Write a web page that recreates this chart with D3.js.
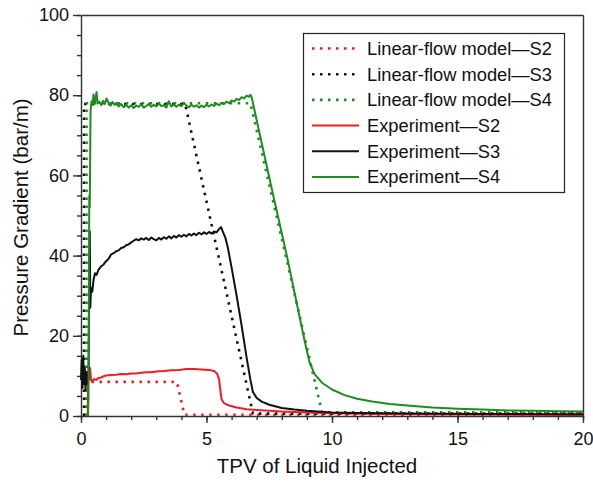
<!DOCTYPE html>
<html>
<head>
<meta charset="utf-8">
<script src="https://cdn.jsdelivr.net/npm/d3@7"></script>
<style>
	body { margin: 0; background: #fff; }
	svg text { font-family: "Liberation Sans", Arial, sans-serif; fill: #111; }
</style>
</head>
<body>
<div id="chart"></div>
<script>
// Tick values
var xTicks = [0, 5, 10, 15, 20];
var xMinor = d3.range(0, 21, 1);
var yTicks = [0, 20, 40, 60, 80, 100];
var yMinor = d3.range(0, 101, 5);

// Linear-flow model curves [TPV, gradient]
var modelS2 = [[0.18,0],[0.18,8.5],[3.82,8.5],[4.12,0.3],[20,0.3]];
var modelS3 = [[0.12,0],[0.12,77.8],[4.15,77.8],[6.85,0.6],[20,0.6]];
var modelS4 = [[0.22,0],[0.22,78],[6.75,78],[9.6,0.9],[20,0.9]];

// Experiment curves [TPV, gradient]
var expS2 = [[0.27,0],[0.28,11],[0.32,9.5],[0.36,12],[0.4,9],[0.44,8.6],[0.52,9.2],[0.6,9.0],[0.7,9.5],
	[0.8,9.6],[0.9,9.9],[1.0,10.1],[1.2,10.2],[1.4,10.3],[1.6,10.5],[1.8,10.4],[2.0,10.6],[2.2,10.6],
	[2.4,10.8],[2.6,10.9],[2.8,10.9],[3.0,11.1],[3.3,11.2],[3.6,11.4],[3.9,11.5],[4.2,11.7],[4.5,11.7],
	[4.8,11.6],[5.1,11.5],[5.3,11.2],[5.42,10.6],[5.5,9.2],[5.55,6.5],[5.6,4.2],[5.7,3.2],[5.9,2.6],
	[6.2,2.1],[6.6,1.7],[7.0,1.5],[7.5,1.3],[8,1.1],[9,0.85],[10,0.7],[12,0.5],[15,0.35],[20,0.25]];

var expS3 = [[0,9],[0.03,14],[0.06,7],[0.09,15],[0.12,8],[0.15,12],[0.18,6.5],[0.21,11],[0.24,8],
	[0.27,10],[0.3,9],[0.33,36],[0.35,46],[0.37,27],[0.4,32],[0.45,31],[0.5,34],[0.56,35.6],[0.62,35.2],
	[0.7,36.5],[0.8,37.3],[0.9,37.8],[1.0,38.6],[1.1,39.2],[1.2,40.3],[1.3,40.6],[1.4,41.1],[1.5,41.3],
	[1.6,41.9],[1.7,42.1],[1.8,42.6],[1.9,42.8],[2.0,43.3],[2.1,43.7],[2.2,44.1],[2.3,43.8],[2.4,44.3],
	[2.5,44.0],[2.6,44.4],[2.7,43.9],[2.8,44.5],[2.9,44.1],[3.0,43.8],[3.1,44.4],[3.2,44.0],[3.3,44.6],
	[3.4,44.2],[3.5,44.8],[3.6,44.3],[3.7,44.9],[3.8,44.5],[3.9,45.1],[4.0,44.7],[4.1,45.2],[4.2,44.8],
	[4.3,45.4],[4.4,45.0],[4.5,45.5],[4.6,45.1],[4.7,45.7],[4.8,45.3],[4.9,45.8],[5.0,45.4],[5.1,45.9],
	[5.2,45.5],[5.3,46.0],[5.4,45.8],[5.5,46.6],[5.58,47.1],[5.65,46.0],[5.75,44.5],[5.85,42],[6.0,37],
	[6.2,30],[6.4,22.5],[6.6,14.5],[6.75,9],[6.85,6],[7.0,4.5],[7.2,3.6],[7.5,2.8],[8,2.0],[8.5,1.6],
	[9,1.3],[10,0.9],[11,0.75],[13,0.6],[16,0.5],[20,0.45]];

var expS4 = [[0.28,0],[0.3,5],[0.33,55],[0.35,52],[0.38,76],[0.42,78.5],[0.46,77.6],[0.5,80.2],[0.54,78],
	[0.58,79],[0.62,80.8],[0.66,77.9],[0.72,78.4],[0.8,77.6],[0.88,78.6],[0.95,77.8],[1.02,79.2],[1.1,78],
	[1.18,77.4],[1.26,78.3],[1.34,77.6],[1.42,78.1],[1.5,77.2],[1.6,77.8],[1.7,77],[1.8,77.6],[1.9,76.9],
	[2.0,77.5],[2.1,76.8],[2.2,77.4],[2.3,77.1],[2.4,77.7],[2.5,76.9],[2.6,77.3],[2.7,77.8],[2.8,77.1],
	[2.9,77.6],[3.0,77.2],[3.1,77.9],[3.2,77.3],[3.3,77.5],[3.4,76.9],[3.5,78.5],[3.55,77.8],[3.6,77.2],
	[3.7,77.7],[3.8,77.1],[3.9,77.6],[4.0,77.3],[4.1,78.1],[4.2,77.4],[4.3,77.0],[4.4,77.6],[4.5,77.1],
	[4.6,77.5],[4.7,76.9],[4.8,77.4],[4.9,77.0],[5.0,77.6],[5.1,77.2],[5.2,77.7],[5.3,77.3],[5.4,77.9],
	[5.5,77.5],[5.6,78.1],[5.7,77.8],[5.8,78.4],[5.9,78.0],[6.0,78.7],[6.1,78.4],[6.2,79.1],[6.3,78.8],
	[6.4,79.5],[6.5,79.2],[6.6,79.9],[6.7,79.6],[6.75,80.1],[6.8,79.5],[7.2,68],[7.66,55],[8.2,40],
	[8.6,28],[8.9,19],[9.1,13.5],[9.3,10.5],[9.6,8.3],[10,6.6],[10.5,5.2],[11,4.3],[11.6,3.6],[12.3,3],
	[13,2.6],[14,2.1],[15,1.8],[16,1.6],[17,1.4],[18,1.3],[19,1.2],[20,1.15]];

var seriesNames = ["Linear-flow model\u2014S2", "Linear-flow model\u2014S3", "Linear-flow model\u2014S4",
	"Experiment\u2014S2", "Experiment\u2014S3", "Experiment\u2014S4"];
var seriesData = [modelS2, modelS3, modelS4, expS2, expS3, expS4];
var seriesColors = ["#ee1c24", "#111111", "#1e8c1e", "#ee1c24", "#111111", "#1e8c1e"];
var seriesDotted = [true, true, true, false, false, false];

var width = 593, height = 482;
var margin = {top: 15, right: 10, bottom: 66, left: 81};

var svg = d3.select("#chart").append("svg")
	.attr("width", width)
	.attr("height", height);

var x = d3.scaleLinear().domain([0, 20]).range([margin.left, width - margin.right]);
var y = d3.scaleLinear().domain([0, 100]).range([height - margin.bottom, margin.top]);

// minor ticks first
svg.append("g")
	.attr("transform", "translate(0," + y(0) + ")")
	.call(d3.axisBottom(x).tickValues(xMinor).tickSize(4).tickFormat(""))
	.call(function(g) { g.select(".domain").remove(); });

svg.append("g")
	.attr("transform", "translate(" + x(0) + ",0)")
	.call(d3.axisLeft(y).tickValues(yMinor).tickSize(4).tickFormat(""))
	.call(function(g) { g.select(".domain").remove(); });

// main axes
var xAxis = svg.append("g")
	.attr("transform", "translate(0," + y(0) + ")")
	.call(d3.axisBottom(x).tickValues(xTicks).tickSize(7).tickSizeOuter(0).tickPadding(9));

var yAxis = svg.append("g")
	.attr("transform", "translate(" + x(0) + ",0)")
	.call(d3.axisLeft(y).tickValues(yTicks).tickSize(8).tickSizeOuter(0).tickPadding(4));

// frame top and right
svg.append("g")
	.attr("transform", "translate(0," + y(100) + ")")
	.call(d3.axisTop(x).tickValues([]).tickSizeOuter(0));

svg.append("g")
	.attr("transform", "translate(" + x(20) + ",0)")
	.call(d3.axisRight(y).tickValues([]).tickSizeOuter(0));

svg.selectAll(".domain, .tick line")
	.attr("stroke", "#333")
	.attr("stroke-width", 1.4);

xAxis.selectAll("text").style("font-size", "18px").attr("fill", "#111");
yAxis.selectAll("text").style("font-size", "18px").attr("fill", "#111");

// axis titles
svg.append("text")
	.attr("x", 317)
	.attr("y", 473)
	.attr("text-anchor", "middle")
	.style("font-size", "20.5px")
	.text("TPV of Liquid Injected");

svg.append("text")
	.attr("transform", "translate(28," + ((y(0) + y(100)) / 2 + 2) + ") rotate(-90)")
	.attr("text-anchor", "middle")
	.style("font-size", "20.5px")
	.text("Pressure Gradient (bar/m)");

// curves
var line = d3.line()
	.x(function(d) { return x(d[0]); })
	.y(function(d) { return y(d[1]); });

svg.append("g").selectAll("path")
	.data(seriesData)
	.enter().append("path")
	.attr("d", line)
	.attr("fill", "none")
	.attr("stroke", function(d, i) { return seriesColors[i]; })
	.attr("stroke-width", function(d, i) { return seriesDotted[i] ? 2.6 : 2; })
	.attr("stroke-dasharray", function(d, i) { return seriesDotted[i] ? "2.5,5.5" : null; })
	.attr("stroke-linejoin", "round");

// legend
var legend = svg.append("g");

legend.append("rect")
	.attr("x", 303.5)
	.attr("y", 33.5)
	.attr("width", 261)
	.attr("height", 159)
	.attr("fill", "#fff")
	.attr("stroke", "#222")
	.attr("stroke-width", 1.2);

var rows = legend.selectAll(".legendrow")
	.data(seriesNames)
	.enter().append("g")
	.attr("class", "legendrow")
	.attr("transform", function(d, i) { return "translate(0," + (48.5 + i * 25.7) + ")"; });

rows.append("line")
	.attr("x1", 312)
	.attr("x2", 359)
	.attr("stroke", function(d, i) { return seriesColors[i]; })
	.attr("stroke-width", function(d, i) { return seriesDotted[i] ? 2.6 : 2; })
	.attr("stroke-dasharray", function(d, i) { return seriesDotted[i] ? "2.5,5.5" : null; });

rows.append("text")
	.attr("x", 367)
	.attr("dy", "0.35em")
	.style("font-size", "18.3px")
	.text(function(d) { return d; });
</script>
</body>
</html>
